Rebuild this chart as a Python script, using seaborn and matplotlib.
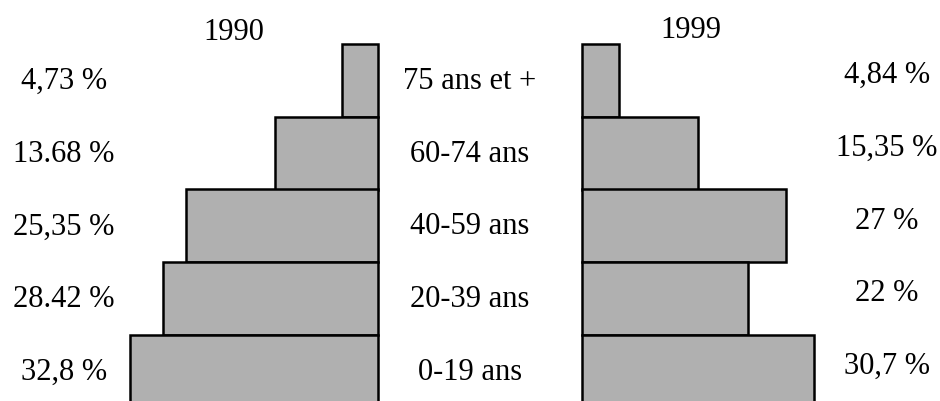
import matplotlib
matplotlib.use("Agg")
import matplotlib.pyplot as plt
import matplotlib.transforms as mtransforms
import seaborn as sns
import pandas as pd

# tranches d'age, du haut vers le bas
ages = ["75 ans et +", "60-74 ans", "40-59 ans", "20-39 ans", "0-19 ans"]
val_1990 = [4.73, 13.68, 25.35, 28.42, 32.8]
val_1999 = [4.84, 15.35, 27, 22, 30.7]
lab_1990 = ["4,73 %", "13.68 %", "25,35 %", "28.42 %", "32,8 %"]
lab_1999 = ["4,84 %", "15,35 %", "27 %", "22 %", "30,7 %"]

df90 = pd.DataFrame({"age": ages, "pct": val_1990})
df99 = pd.DataFrame({"age": ages, "pct": val_1999})

sns.set_style("white")
plt.rcParams["font.family"] = ["Liberation Serif", "DejaVu Serif"]
plt.rcParams["text.color"] = "black"

fig = plt.figure(figsize=(9.4, 4.02), dpi=100)
px = 7.56  # pixels par %

axL = fig.add_axes([0, 0, 378 / 940, 1])
axR = fig.add_axes([582 / 940, 0, 358 / 940, 1])

gray = "#b0b0b0"
sns.barplot(data=df90, x="pct", y="age", order=ages, orient="h", width=1,
            color=gray, edgecolor="black", linewidth=1.8, saturation=1, ax=axL)
sns.barplot(data=df99, x="pct", y="age", order=ages, orient="h", width=1,
            color=gray, edgecolor="black", linewidth=1.8, saturation=1, ax=axR)

row = 72.75
ylim = (-0.5 + (402 - 45) / row, -0.5 - 45 / row)
axL.set_xlim(378 / px, 0)
axR.set_xlim(0, 358 / px)
for ax in (axL, axR):
    ax.set_ylim(*ylim)
    ax.axis("off")
    for p in ax.patches:
        p.set_clip_on(False)

fs = 22
trL = mtransforms.blended_transform_factory(fig.transFigure, axL.transData)
for i, a in enumerate(ages):
    axL.text(470 / 940, i, a, transform=trL, ha="center", va="center", fontsize=fs, color="black")
    axL.text(64 / 940, i, lab_1990[i], transform=trL, ha="center", va="center", fontsize=fs, color="black")
    axL.text(887 / 940, i - 0.08, lab_1999[i], transform=trL, ha="center", va="center", fontsize=fs, color="black")

fig.text(234 / 940, 1 - 32 / 402, "1990", ha="center", va="center", fontsize=fs, color="black")
fig.text(691 / 940, 1 - 30 / 402, "1999", ha="center", va="center", fontsize=fs, color="black")

fig.savefig("out.png", dpi=100)
